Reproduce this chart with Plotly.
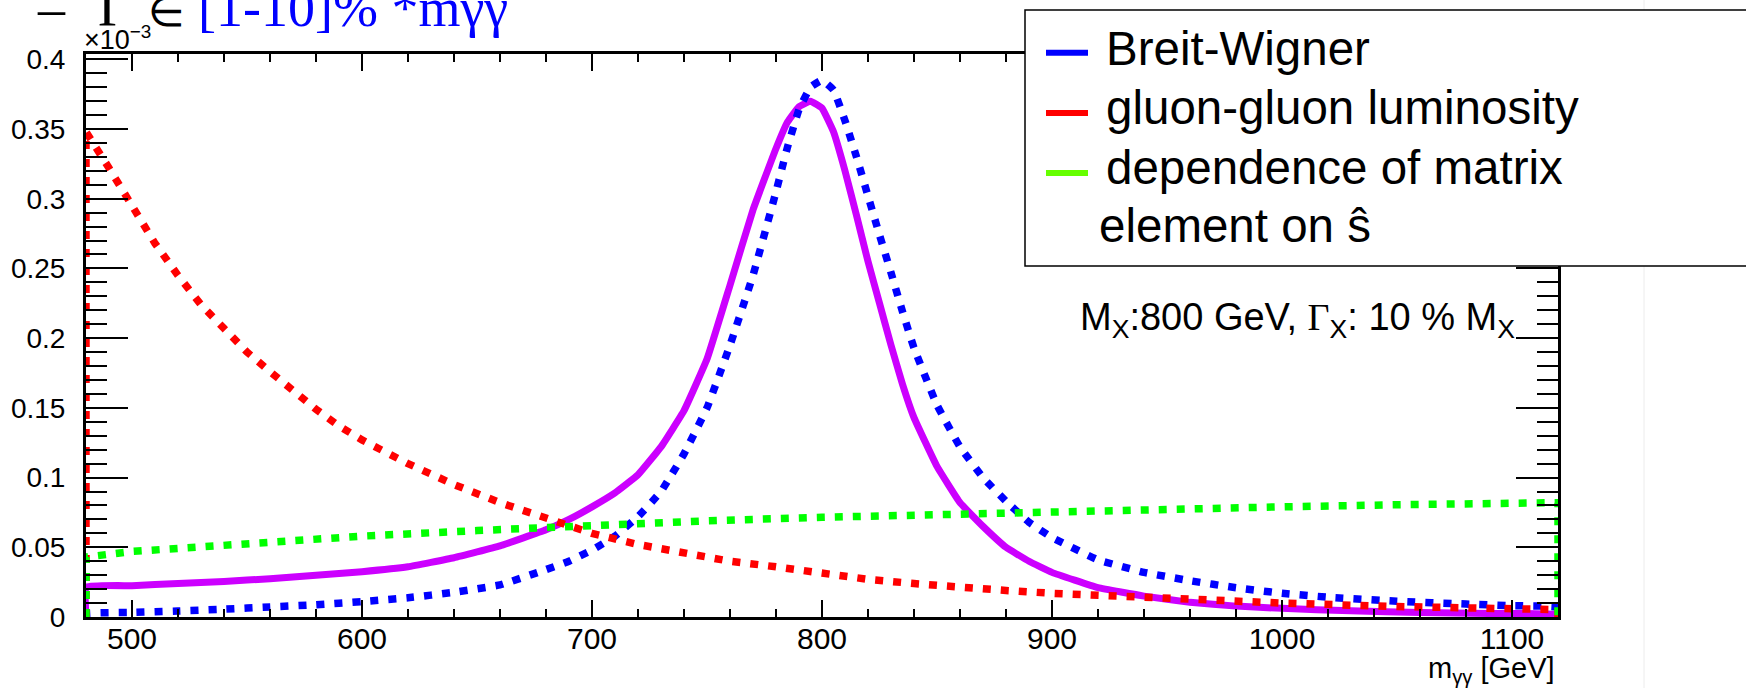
import plotly.graph_objects as go

# ---------------- data (values in units of 1e-3) ----------------
bw_x = [480, 480, 500, 520, 540, 560, 580, 600, 620, 640, 660, 680, 690, 700, 710, 720, 730, 740, 750,
        760, 770, 780, 785, 790, 795, 800, 805, 810, 815, 820, 825, 830, 835, 840, 850, 860, 870, 880,
        890, 900, 920, 940, 960, 980, 1000, 1020, 1050, 1080, 1100, 1120, 1120]
bw_y = [0, 0.0024, 0.0033, 0.0043, 0.0056, 0.0072, 0.0088, 0.011, 0.0138, 0.0177, 0.023, 0.034, 0.040,
        0.048, 0.058, 0.072, 0.090, 0.117, 0.150, 0.195, 0.245, 0.305, 0.337, 0.364, 0.380, 0.385, 0.378,
        0.356, 0.330, 0.302, 0.274, 0.247, 0.219, 0.193, 0.152, 0.122, 0.100, 0.083, 0.068, 0.057, 0.041,
        0.032, 0.026, 0.021, 0.017, 0.0142, 0.0113, 0.0093, 0.0081, 0.007, 0]

lumi_x = [480, 480, 490, 500, 510, 520, 530, 540, 550, 560, 570, 580, 590, 600, 620, 640, 660, 680, 700,
          720, 740, 760, 780, 800, 820, 840, 860, 880, 900, 950, 1000, 1050, 1100, 1120, 1120]
lumi_y = [0, 0.348, 0.322, 0.296, 0.268, 0.245, 0.224, 0.207, 0.190, 0.176, 0.162, 0.149, 0.137, 0.127,
          0.110, 0.095, 0.082, 0.071, 0.060, 0.052, 0.046, 0.040, 0.036, 0.031, 0.027, 0.024, 0.021,
          0.019, 0.017, 0.013, 0.010, 0.0075, 0.0058, 0.0053, 0]

me_x = [480, 480, 500, 550, 600, 650, 700, 750, 800, 850, 900, 950, 1000, 1050, 1100, 1120, 1120]
me_y = [0, 0.043, 0.047, 0.053, 0.058, 0.062, 0.066, 0.069, 0.0715, 0.0737, 0.0755, 0.0773, 0.079,
        0.0805, 0.0816, 0.082, 0]

prod_x = [480, 480, 500, 520, 540, 560, 580, 600, 620, 640, 660, 680, 690, 700, 710, 720, 730, 740, 750,
          760, 770, 780, 785, 790, 795, 800, 805, 810, 815, 820, 825, 830, 835, 840, 850, 860, 870, 880,
          890, 900, 920, 940, 960, 980, 1000, 1030, 1060, 1090, 1120, 1120]
prod_y = [0, 0.0215, 0.0225, 0.024, 0.0255, 0.0275, 0.030, 0.0325, 0.036, 0.0425, 0.051, 0.0625, 0.070,
          0.079, 0.089, 0.102, 0.122, 0.148, 0.185, 0.238, 0.292, 0.336, 0.355, 0.366, 0.370, 0.365, 0.348,
          0.320, 0.288, 0.255, 0.225, 0.195, 0.167, 0.143, 0.108, 0.082, 0.065, 0.050, 0.040, 0.032, 0.021,
          0.015, 0.0105, 0.0078, 0.0062, 0.0044, 0.0033, 0.0025, 0.0019, 0]

y_tickvals = [0, 0.05, 0.1, 0.15, 0.2, 0.25, 0.3, 0.35, 0.4]
y_ticktext = ["0", "0.05", "0.1", "0.15", "0.2", "0.25", "0.3", "0.35", "0.4"]

legend_labels = ["Breit-Wigner", "gluon-gluon luminosity", "dependence of matrix", "element on \u015d"]
legend_colors = ["#0000ff", "#ff0000", "#66ff00"]

# ---------------- layout geometry ----------------
W, H = 1746, 688
L, R, T, B = 86, 188, 54, 71
PW, PH = W - L - R, H - T - B


def px(x):
    return (x - L) / PW


def py(y):
    return (H - B - y) / PH


SANS = "Liberation Sans, Arial, sans-serif"
SERIF = "Liberation Serif, Times New Roman, serif"
dot = "8px,10px"
DW = 7.5

fig = go.Figure()
fig.add_trace(go.Scatter(x=prod_x, y=prod_y, mode="lines",
                         line=dict(color="#cc00ff", width=7, shape="spline", smoothing=0.3), showlegend=False))
fig.add_trace(go.Scatter(x=bw_x, y=bw_y, mode="lines",
                         line=dict(color="#0000ff", width=DW, dash=dot, shape="spline", smoothing=0.3),
                         showlegend=False))
fig.add_trace(go.Scatter(x=lumi_x, y=lumi_y, mode="lines",
                         line=dict(color="#ff0000", width=DW, dash=dot), showlegend=False))
fig.add_trace(go.Scatter(x=me_x, y=me_y, mode="lines",
                         line=dict(color="#00ff00", width=DW, dash=dot), showlegend=False))

shapes = []
# faint canvas edge line
shapes.append(dict(type="line", xref="paper", yref="paper", x0=px(1644), x1=px(1644), y0=py(0), y1=py(H),
                   line=dict(color="#ececec", width=1), layer="above"))
# legend box
shapes.append(dict(type="rect", xref="paper", yref="paper", x0=px(1025), x1=px(1800), y0=py(10), y1=py(266),
                   fillcolor="white", line=dict(color="black", width=1.5), layer="above"))
leg_line_y = [52.7, 113, 173]
for yy, c in zip(leg_line_y, legend_colors):
    shapes.append(dict(type="line", xref="paper", yref="paper", x0=px(1046), x1=px(1088), y0=py(yy), y1=py(yy),
                       line=dict(color=c, width=6), layer="above"))

ann = []
leg_text_y = [48.5, 107, 167, 225]
leg_text_x = [1104, 1104, 1104, 1097]
for t, yy, xx in zip(legend_labels, leg_text_y, leg_text_x):
    ann.append(dict(text=t, xref="paper", yref="paper", x=px(xx), y=py(yy), xanchor="left", yanchor="middle",
                    showarrow=False, font=dict(family=SANS, size=47.5, color="black")))

# title pieces (cut at top)
title_pieces = [("\u2013", 35, "black", 54, 8), ("\u0393", 96, "black", 56, 7), ("\u2208", 146, "black", 42, 12),
                ("[1-10]% *m\u03b3\u03b3", 196, "#0000ff", 54, 8)]
for t, xx, c, fs, yc in title_pieces:
    ann.append(dict(text=t, xref="paper", yref="paper", x=px(xx), y=py(yc), xanchor="left", yanchor="middle",
                    showarrow=False, font=dict(family=SERIF, size=fs, color=c)))

# exponent
ann.append(dict(text="\u00d710<sup>\u22123</sup>", xref="paper", yref="paper", x=px(82), y=py(38),
                xanchor="left", yanchor="middle", showarrow=False,
                font=dict(family=SANS, size=27, color="black")))

# mass / width label
ann.append(dict(text="M<sub>X</sub>:800 GeV, <span style='font-family:Liberation Serif'>\u0393</span>"
                     "<sub>X</sub>: 10 % M<sub>X</sub>",
                xref="paper", yref="paper", x=px(1517), y=py(320), xanchor="right", yanchor="middle",
                showarrow=False, font=dict(family=SANS, size=38, color="black")))

# x axis title
ann.append(dict(text="m<sub>\u03b3\u03b3</sub> [GeV]", xref="paper", yref="paper", x=px(1557), y=py(670),
                xanchor="right", yanchor="middle", showarrow=False,
                font=dict(family=SANS, size=29, color="black")))

fig.update_layout(
    width=W, height=H, autosize=False,
    margin=dict(l=L, r=R, t=T, b=B, pad=0),
    paper_bgcolor="white", plot_bgcolor="white",
    shapes=shapes, annotations=ann,
    xaxis=dict(range=[480, 1120], tick0=0, dtick=100, showgrid=False, zeroline=False,
               showline=True, linecolor="black", linewidth=3, mirror="allticks",
               ticks="inside", ticklen=17, tickwidth=2, tickcolor="black",
               minor=dict(dtick=20, tick0=0, ticks="inside", ticklen=8, tickwidth=2, tickcolor="black",
                          showgrid=False),
               tickfont=dict(family=SANS, size=30, color="black"), ticklabelstandoff=-7),
    yaxis=dict(range=[0, 0.4038], tickvals=y_tickvals, ticktext=y_ticktext, showgrid=False, zeroline=False,
               showline=True, linecolor="black", linewidth=3, mirror="allticks",
               ticks="inside", ticklen=42, tickwidth=2, tickcolor="black",
               minor=dict(dtick=0.01, tick0=0, ticks="inside", ticklen=21, tickwidth=2, tickcolor="black",
                          showgrid=False),
               tickfont=dict(family=SANS, size=28, color="black"), ticklabelstandoff=12),
)

fig.write_html("out.html", config={"displayModeBar": False},
               post_script="document.body.style.margin='0';document.body.style.overflow='hidden';")
